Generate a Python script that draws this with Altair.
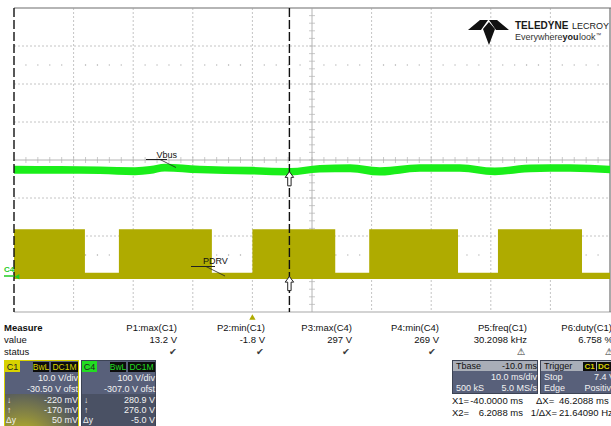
import altair as alt
import numpy as np
import pandas as pd

# ---------------- acquisition settings ----------------
T_LEFT, T_RIGHT = -40.0, 60.0          # ms (10 ms/div, 10 divisions)
Y_DIVS = 4                              # +/- 4 vertical divisions
C1_VDIV, C1_OFST = 10.0, -30.5          # PDRV  : 10 V/div, -30.50 V offset
C4_VDIV, C4_OFST = 100.0, -307.0        # Vbus  : 100 V/div, -307.0 V offset
CURSOR_X = [-40.0, 6.2088]              # X1, X2 (ms)
C1_CURSOR = [-0.220, -0.170]            # V at X1, X2
C4_CURSOR = [280.9, 276.0]              # V at X1, X2

# ---------------- C1 : PDRV gate-drive bursts ----------------
pdrv_t = [-40.0, -28.1, -22.4, -6.8, 0.0, 13.9, 19.6, 34.5, 41.2, 55.3, 60.0]
pdrv_top = [12.3, 0.8, 12.3, 0.8, 12.3, 0.8, 12.3, 0.8, 12.3, 0.8, 0.8]
pdrv_floor = -0.8

# ---------------- C4 : Vbus envelope ----------------
vbus_t = [-40.0, -32.3, -25.6, -19.7, -17.2, -14.7, -8.8, -0.4, 6.3, 11.3,
          16.4, 21.4, 28.1, 34.8, 40.7, 46.6, 53.3, 60.0]
vbus_hi = [292, 291, 290, 288, 291, 297, 292, 289, 286, 294,
           296, 288, 296, 296, 287, 295, 296, 292]
vbus_lo = [271, 271, 270, 267, 270, 277, 272, 269, 266, 274,
           275, 266, 276, 276, 267, 275, 276, 272]

# ---------------- measurement table ----------------
meas_names = ["P1:max(C1)", "P2:min(C1)", "P3:max(C4)", "P4:min(C4)", "P5:freq(C1)", "P6:duty(C1)"]
meas_values = ["13.2 V", "-1.8 V", "297 V", "269 V", "30.2098 kHz", "6.758 %"]
meas_status = ["\u2714", "\u2714", "\u2714", "\u2714", "\u26a0", "\u26a0"]

GREEN = "#1aee1a"
YELLOW = "#afab00"
FONT = "Liberation Sans"

W, H = 596, 304
OX, OY = 14, 8
xs = alt.Scale(domain=[T_LEFT, T_RIGHT], nice=False, zero=False)
ys = alt.Scale(domain=[-Y_DIVS, Y_DIVS], nice=False, zero=False)
ONE = pd.DataFrame({"k": [0]})


def to_div(v, vdiv, ofst):
    return (np.asarray(v, dtype=float) + ofst) / vdiv


def X(field="t"):
    return alt.X(f"{field}:Q", scale=xs, axis=None)


def Y(field="d"):
    return alt.Y(f"{field}:Q", scale=ys, axis=None)


def text(x, y, s, size=9.5, color="#111111", align="left", weight="normal", font=FONT):
    return alt.Chart(ONE).mark_text(
        align=align, baseline="middle", fontSize=size, color=color,
        fontWeight=weight, font=font
    ).encode(x=alt.value(x - OX), y=alt.value(y - OY), text=alt.value(s))


def rect(x0, y0, x1, y1, color, **kw):
    return alt.Chart(ONE).mark_rect(color=color, **kw).encode(
        x=alt.value(x0 - OX), x2=alt.value(x1 - OX),
        y=alt.value(y0 - OY), y2=alt.value(y1 - OY))


def seg(x0, y0, x1, y1, color, width=1.0, dash=None):
    kw = {} if dash is None else {"strokeDash": dash}
    return alt.Chart(ONE).mark_rule(color=color, strokeWidth=width, **kw).encode(
        x=alt.value(x0 - OX), x2=alt.value(x1 - OX),
        y=alt.value(y0 - OY), y2=alt.value(y1 - OY))


layers = []

# ---------------- graticule ----------------
grid_t = pd.DataFrame({"t": [-30, -20, -10, 0, 20, 30, 40, 50]})
layers.append(alt.Chart(grid_t).mark_rule(color="#c4c4c4", strokeDash=[2, 2], strokeWidth=1).encode(
    x=X(), y=alt.value(0), y2=alt.value(H)))
grid_d = pd.DataFrame({"d": [-3, -2, -1, 1, 2, 3]})
layers.append(alt.Chart(grid_d).mark_rule(color="#c4c4c4", strokeDash=[2, 2], strokeWidth=1).encode(
    y=Y(), x=alt.value(0), x2=alt.value(W)))

# minor dot rows at +/- 2.5 div
dot_t = [t for t in np.arange(-38, 60, 2) if t % 10 != 0]
dots = pd.DataFrame({"t": dot_t * 2, "d": [2.5] * len(dot_t) + [-2.5] * len(dot_t)})
layers.append(alt.Chart(dots).mark_square(size=1.5, color="#a8a8a8", opacity=1).encode(x=X(), y=Y()))

# centre axes with fifth-division ticks
layers.append(alt.Chart(pd.DataFrame({"t": [10.0]})).mark_rule(color="#b4b4b4").encode(
    x=X(), y=alt.value(0), y2=alt.value(H)))
layers.append(alt.Chart(pd.DataFrame({"d": [0.0]})).mark_rule(color="#b4b4b4").encode(
    y=Y(), x=alt.value(0), x2=alt.value(W)))
xt = pd.DataFrame({"t": np.arange(-38, 60, 2), "d": 0.0})
layers.append(alt.Chart(xt).mark_tick(orient="vertical", size=6, thickness=1, color="#b4b4b4").encode(x=X(), y=Y()))
yt = pd.DataFrame({"t": 10.0, "d": np.round(np.arange(-3.8, 4.0, 0.2), 2)})
layers.append(alt.Chart(yt).mark_tick(orient="horizontal", size=6, thickness=1, color="#b4b4b4").encode(x=X(), y=Y()))

# frame
layers.append(seg(OX, OY, 611, OY, "#9c9c9c", 1.5))
layers.append(seg(OX, OY + H, 611, OY + H, "#a8a8a8", 1.2))
layers.append(seg(610, OY, 610, OY + H, "#707070", 1.2))

# ---------------- traces ----------------
pdrv = pd.DataFrame({"t": pdrv_t,
                     "top": to_div(pdrv_top, C1_VDIV, C1_OFST),
                     "bot": to_div([pdrv_floor] * len(pdrv_t), C1_VDIV, C1_OFST)})
layers.append(alt.Chart(pdrv).mark_area(color=YELLOW, interpolate="step-after", opacity=1).encode(
    x=X(), y=Y("top"), y2="bot:Q"))

vbus = pd.DataFrame({"t": vbus_t,
                     "hi": to_div(vbus_hi, C4_VDIV, C4_OFST),
                     "lo": to_div(vbus_lo, C4_VDIV, C4_OFST)})
layers.append(alt.Chart(vbus).mark_area(color=GREEN, interpolate="monotone", opacity=1).encode(
    x=X(), y=Y("hi"), y2="lo:Q"))

# ---------------- cursors ----------------
cur = pd.DataFrame({"t": CURSOR_X})
layers.append(alt.Chart(cur).mark_rule(color="#111111", strokeDash=[9, 3], strokeWidth=1.4).encode(
    x=X(), y=alt.value(0), y2=alt.value(H)))

ARROW = "M0,-1L0.6,-0.2L0.24,-0.2L0.24,1L-0.24,1L-0.24,-0.2L-0.6,-0.2Z"
arrows = pd.DataFrame({
    "t": [CURSOR_X[1], CURSOR_X[1]],
    "d": [float(to_div(C4_CURSOR[1], C4_VDIV, C4_OFST)), float(to_div(C1_CURSOR[1], C1_VDIV, C1_OFST))],
})
layers.append(alt.Chart(arrows).mark_point(shape=ARROW, size=200, filled=True, fill="white",
                                           stroke="#222222", strokeWidth=1, yOffset=7, opacity=1).encode(x=X(), y=Y()))

# trace labels with leaders
layers.append(text(156.5, 154.5, "Vbus", size=9))
layers.append(seg(146, 159.5, 167, 159.5, "#222222", 1))
layers.append(seg(160, 159.5, 176, 167.5, "#222222", 0.8))
layers.append(text(203, 261, "PDRV", size=9))
layers.append(seg(191, 266.5, 215, 266.5, "#222222", 1))
layers.append(seg(206, 266.5, 225, 276, "#222222", 0.8))

# C4 ground marker on the left edge
layers.append(text(9, 270, "C4", size=8, color="#22cc22", align="center", weight="bold"))
layers.append(seg(4, 276, 14, 276, "#22cc22", 1.5))
gnd = pd.DataFrame({"t": [T_LEFT], "d": [float(to_div(0.0, C4_VDIV, C4_OFST))]})
layers.append(alt.Chart(gnd).mark_point(shape="triangle-left", size=30, filled=True, color="#22cc22",
                                        xOffset=3, opacity=1).encode(x=X(), y=Y()))

# trigger position marker (t = 0) under the grid
trig = pd.DataFrame({"t": [0.0]})
layers.append(alt.Chart(trig).mark_point(shape="triangle-up", size=40, filled=True, color=YELLOW,
                                         opacity=1).encode(x=X(), y=alt.value(H + 5)))

# ---------------- logo ----------------
logo_polys = [
    [(480, 20), (488, 20), (481, 30), (468, 30)],
    [(497, 20), (489, 20), (496, 30), (509, 30)],
    [(489, 22), (495, 29), (489, 45), (483, 29)],
]
cx, cy, half = 488.5, 32.5, 20.5
logo_path = "".join(
    "M" + "L".join(f"{(px - cx) / half:.3f},{(py - cy) / half:.3f}" for px, py in poly) + "Z"
    for poly in logo_polys)
layers.append(alt.Chart(ONE).mark_point(shape=logo_path, size=(2 * half) ** 2, filled=True,
                                        color="#111111", opacity=1).encode(
    x=alt.value(cx - OX), y=alt.value(cy - OY)))
layers.append(text(515, 26, "TELEDYNE", size=10, weight="bold", color="#1a1a1a"))
layers.append(text(609, 26, "LECROY", size=9, align="right", color="#1a1a1a"))
layers.append(text(515, 37, "Everywhere", size=9, color="#333333"))
layers.append(text(562.5, 37, "you", size=9, weight="bold", color="#1a1a1a"))
layers.append(text(579, 37, "look", size=9, color="#333333"))
layers.append(text(596, 34.5, "\u2122", size=5.5, color="#333333"))

# ---------------- measurement table ----------------
layers.append(text(4, 328, "Measure", weight="bold"))
layers.append(text(4, 340, "value"))
layers.append(text(4, 352, "status"))
col_right = [177, 265, 352, 439, 527, 612]
status_x = [173, 260, 346, 432, 521, 609]
for name, val, st, xr, xsx in zip(meas_names, meas_values, meas_status, col_right, status_x):
    layers.append(text(xr, 328, name, align="right"))
    layers.append(text(xr + (1 if xr > 600 else 0), 340, val, align="right"))
    layers.append(text(xsx, 352, st, size=9.5, align="center", color="#3a3a3a", font="DejaVu Sans"))

# ---------------- channel boxes ----------------
BOX = "#58607a"
BOX_LO = "#4a5164"
WHITE = "#f2f2f2"


def channel_box(x0, x1, tag, tag_color, vdiv, ofst, c_dn, c_up, dy, glow):
    out = [rect(x0, 360, x1, 427, tag_color if glow else "#3c4354"),
           rect(x0 + 1, 361, x1 - 1, 427, BOX)]
    if glow:
        out.append(rect(x0 + 1, 394, x1 - 1, 427, alt.Gradient(
            gradient="radial",
            stops=[alt.GradientStop(color="#d6cf10", offset=0),
                   alt.GradientStop(color="#8c8a40", offset=0.5),
                   alt.GradientStop(color=BOX_LO, offset=1)],
            x1=0.25, y1=1.0, x2=0.25, y2=1.0, r1=0, r2=0.85)))
    else:
        out.append(rect(x0 + 1, 394, x1 - 1, 427, BOX_LO))
    out += [
        rect(x0 + 1, 361, x0 + 16, 372, tag_color),
        text(x0 + 8.5, 367, tag, size=9, align="center", color="#222222"),
        rect(x0 + 29, 362, x0 + 45, 372, "#0c0c0c"),
        text(x0 + 37, 367, "BwL", size=8.5, align="center", color=tag_color),
        rect(x0 + 47, 362, x1 - 1, 372, "#0c0c0c"),
        text((x0 + 47 + x1 - 1) / 2, 367, "DC1M", size=8.5, align="center", color=tag_color),
        text(x1 - 1, 378, vdiv, size=9, align="right", color=WHITE),
        text(x1 - 1, 389, ofst, size=9, align="right", color=WHITE),
        text(x0 + 3, 400, "\u2193", size=8.5, color=WHITE),
        text(x1 - 1, 400, c_dn, size=9, align="right", color=WHITE),
        text(x0 + 3, 410, "\u2191", size=8.5, color=WHITE),
        text(x1 - 1, 410, c_up, size=9, align="right", color=WHITE),
        text(x0 + 2, 420, "\u0394y", size=8.5, color=WHITE),
        text(x1 - 1, 420, dy, size=9, align="right", color=WHITE),
    ]
    return out


layers += channel_box(4, 79, "C1", "#d8d200", "10.0 V/div", "-30.50 V ofst",
                      "-220 mV", "-170 mV", "50 mV", True)
layers += channel_box(81, 156, "C4", "#22dd22", "100 V/div", "-307.0 V ofst",
                      "280.9 V", "276.0 V", "-5.0 V", False)

# timebase box
layers += [
    rect(452, 360, 538, 394, "#3c4354"),
    rect(453, 361, 537, 393, BOX),
    rect(453, 361, 537, 371, "#a9aeb8"),
    text(456, 366, "Tbase", size=9, color="#111111"),
    text(537, 366, "-10.0 ms", size=9, align="right", color="#111111"),
    text(537, 377, "10.0 ms/div", size=9, align="right", color=WHITE),
    text(456, 388, "500 kS", size=9, color=WHITE),
    text(537, 388, "5.0 MS/s", size=9, align="right", color=WHITE),
]
# trigger box
layers += [
    rect(540, 360, 612, 394, "#3c4354"),
    rect(541, 361, 612, 393, BOX),
    rect(541, 361, 612, 371, "#a9aeb8"),
    text(544, 366, "Trigger", size=9, color="#111111"),
    rect(583, 362, 596, 371, "#0c0c0c"),
    text(589.5, 366.5, "C1", size=8, align="center", color="#d8d200", weight="bold"),
    rect(597, 362, 612, 371, "#0c0c0c"),
    text(598, 366.5, "DC", size=8, color="#d8d200", weight="bold"),
    text(544, 377, "Stop", size=9, color=WHITE),
    text(615, 377, "7.4 V", size=9, align="right", color=WHITE),
    text(544, 388, "Edge", size=9, color=WHITE),
    text(616, 388, "Positive", size=9, align="right", color=WHITE),
]
# cursor readouts
layers += [
    text(452, 401, "X1=", size=9.5),
    text(523, 401, "-40.0000 ms", size=9.5, align="right"),
    text(536, 401, "\u0394X=", size=9.5),
    text(559, 401, "46.2088 ms", size=9.5),
    text(452, 413, "X2=", size=9.5),
    text(523, 413, "6.2088 ms", size=9.5, align="right"),
    text(557, 413, "1/\u0394X=", size=9.5, align="right"),
    text(559, 413, "21.64090 Hz", size=9.5),
]

chart = alt.layer(*layers).properties(
    width=W, height=H,
    autosize=alt.AutoSizeParams(type="none"),
    padding={"left": OX, "top": OY, "right": 611 - OX - W, "bottom": 426 - OY - H},
    background="white",
).configure_view(stroke=None)

chart.save("out.html", embed_options={"renderer": "svg", "actions": False})
